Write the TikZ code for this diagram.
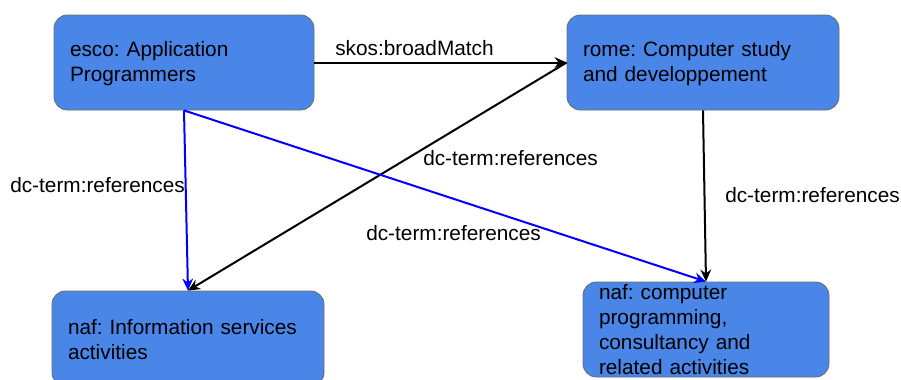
\documentclass[tikz,border=0pt]{standalone}
\usepackage{fontspec}
\setmainfont{Liberation Sans}
\usetikzlibrary{arrows.meta}
\definecolor{boxfill}{HTML}{4A86E8}
\definecolor{boxline}{HTML}{6B6B6B}
\definecolor{linkblue}{HTML}{0000FF}
\frenchspacing
\begin{document}
\begin{tikzpicture}[x=0.75pt,y=-0.75pt,
  every node/.style={font=\fontsize{15.6}{18.75}\selectfont},
  box/.style={draw=boxline, line width=0.6pt, fill=boxfill, rounded corners=10pt,
    align=left, inner xsep=12pt, inner ysep=0pt, anchor=center},
  lbl/.style={inner sep=0pt, anchor=base west},
  blk/.style={draw=black, line width=1.5pt, -{Stealth[length=9pt,width=8pt]}},
  blu/.style={draw=linkblue, line width=1.5pt, -{Stealth[length=9pt,width=8pt]}}]
\useasboundingbox (0,0) rectangle (901,379);
\begin{scope}
\clip (0,0) rectangle (901,379);
\node[box, text width=171pt, minimum height=71.25pt] (esco) at (184,62.5) {\strut esco: Application\\Programmers};
\node[box, text width=180pt, minimum height=71.25pt] (rome) at (703,62.5) {\strut rome: Computer study\\and developpement};
\node[box, text width=180pt, minimum height=71.25pt] (naf1) at (188,338.5) {\strut naf: Information services\\activities};
\node[box, text width=160.5pt, minimum height=71.25pt] (naf2) at (706,329.5) {naf: computer\\programming,\\consultancy and\\related activities};
\end{scope}
\draw[blk] (esco.east) -- (rome.west);
\draw[blk] (rome.west) -- (naf1.north);
\draw[blu] (esco.south) -- (naf1.north);
\draw[blu] (esco.south) -- (naf2.north);
\draw[blk] (rome.south) -- (naf2.north);
\node[lbl] (l1) at (335,55) {skos:broadMatch};
\node[lbl] (l2) at (10,192) {dc-term:references};
\node[lbl] (l3) at (423,165) {dc-term:references};
\node[lbl] (l4) at (366,240) {dc-term:references};
\node[lbl] (l5) at (725,202) {dc-term:references};
\end{tikzpicture}
\end{document}
